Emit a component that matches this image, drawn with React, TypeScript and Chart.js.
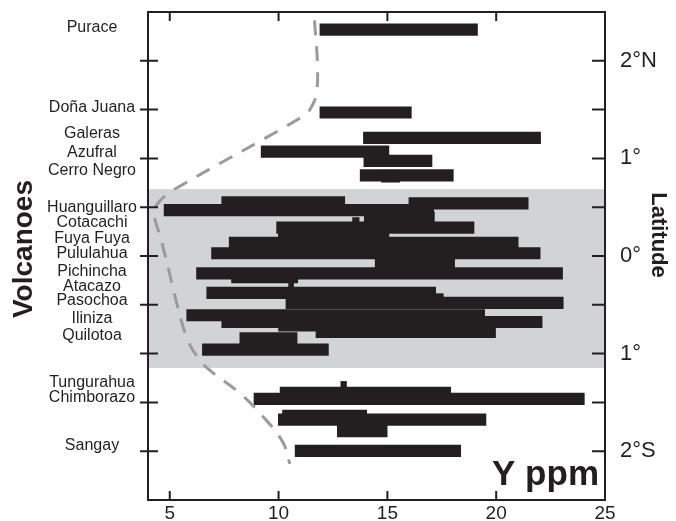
import React, { useEffect, useRef } from 'react';
import { Chart, registerables } from 'chart.js';

Chart.register(...registerables);

// ---- Data ----
const volcanoNames = [
  'Purace', 'Doña Juana', 'Galeras', 'Azufral', 'Cerro Negro', 'Huanguillaro', 'Cotacachi',
  'Fuya Fuya', 'Pululahua', 'Pichincha', 'Atacazo', 'Pasochoa', 'Iliniza', 'Quilotoa',
  'Tungurahua', 'Chimborazo', 'Sangay',
];
const volcanoLats = [2.34, 1.52, 1.25, 1.06, 0.87, 0.50, 0.34, 0.18, 0.025, -0.155, -0.315, -0.46, -0.64, -0.82, -1.295, -1.45, -1.945];

// Horizontal range bars: latitude, Y ppm min, Y ppm max
const barLat = [
  2.32, 1.47, 1.21, 1.07, 0.975, 0.826, 0.815,
  0.55, 0.47, 0.54, 0.39, 0.335, 0.29, 0.257, 0.136, 0.028, -0.061, -0.178, -0.217, -0.27,
  -0.378, -0.445, -0.481, -0.607, -0.676, -0.712, -0.779, -0.843, -0.959,
  -1.344, -1.401, -1.464, -1.637, -1.677, -1.794, -1.997,
];
const barMin = [
  11.9, 11.9, 13.9, 9.2, 13.92, 13.75, 14.73,
  7.39, 4.74, 15.99, 13.94, 13.4, 9.91, 9.99, 7.73, 6.92, 14.44, 6.23, 7.84, 10.46,
  6.70, 17.22, 10.34, 5.78, 7.39, 10.0, 11.72, 8.22, 6.5,
  12.86, 10.07, 8.87, 10.18, 9.99, 12.7, 10.76,
];
const barMax = [
  19.14, 16.1, 22.04, 15.07, 17.05, 18.03, 15.56,
  13.04, 17.13, 21.47, 17.16, 13.7, 18.98, 15.07, 21.01, 22.02, 18.09, 23.05, 10.88, 10.69,
  17.22, 17.57, 23.08, 19.47, 22.11, 16.0, 19.97, 10.85, 12.29,
  13.12, 17.91, 24.05, 14.05, 19.53, 14.99, 18.37,
];

// Dashed trend curve
const curvePpm = [11.65, 11.79, 11.73, 11.49, 11.19, 5.12, 4.51, 4.28, 4.6, 4.97, 5.31, 5.8, 6.35, 6.89, 8.19, 9.26, 10.18, 10.52];
const curveLat = [2.415, 1.94, 1.65, 1.52, 1.44, 0.67, 0.555, 0.446, 0.17, -0.157, -0.476, -0.846, -1.06, -1.18, -1.40, -1.64, -1.90, -2.13];

// Shaded latitude band [south, north]
const shadedBand = [-1.147, 0.685];

// Axes
const xTickValues = [5, 10, 15, 20, 25];
const latTickValues = [2, 1, 0, -1, -2];
const latTickLabels = ['2°N', '1°', '0°', '1°', '2°S'];
const latMinorTicks = [2, 1.5, 1, 0.5, 0, -0.5, -1, -1.5, -2];
const xRange = [4, 25];
const latRange = [-2.5, 2.5];

const FONT = '"Liberation Sans", Arial, Helvetica, sans-serif';
const INK = '#231f20';

const decorPlugin = {
  id: 'decor',
  beforeDatasetsDraw(chart: any) {
    const { ctx, chartArea: a, scales } = chart;
    const y = scales.y;
    const yt = y.getPixelForValue(shadedBand[1]);
    const yb = y.getPixelForValue(shadedBand[0]);
    ctx.save();
    ctx.fillStyle = '#d1d3d4';
    ctx.fillRect(a.left, yt, a.right - a.left, yb - yt);
    ctx.restore();
  },
  afterDatasetsDraw(chart: any) {
    const { ctx, chartArea: a, scales } = chart;
    const x = scales.x;
    const y = scales.y;
    ctx.save();
    ctx.strokeStyle = INK;
    ctx.lineWidth = 2;
    ctx.strokeRect(a.left, a.top, a.right - a.left, a.bottom - a.top);
    ctx.beginPath();
    xTickValues.forEach((v) => {
      const px = x.getPixelForValue(v);
      ctx.moveTo(px, a.top);
      ctx.lineTo(px, a.top + 9);
      ctx.moveTo(px, a.bottom);
      ctx.lineTo(px, a.bottom - 9);
    });
    latMinorTicks.forEach((v) => {
      const py = y.getPixelForValue(v);
      ctx.moveTo(a.left - 8, py);
      ctx.lineTo(a.left + 10, py);
      ctx.moveTo(a.right, py);
      ctx.lineTo(a.right - 13, py);
    });
    ctx.stroke();

    // volcano names
    ctx.fillStyle = INK;
    ctx.font = `16px ${FONT}`;
    ctx.textAlign = 'center';
    ctx.textBaseline = 'middle';
    volcanoNames.forEach((n, i) => {
      ctx.fillText(n, 92, y.getPixelForValue(volcanoLats[i]));
    });

    // axis titles
    ctx.font = `bold 28px ${FONT}`;
    ctx.textBaseline = 'alphabetic';
    ctx.save();
    ctx.translate(32, 249);
    ctx.rotate(-Math.PI / 2);
    ctx.fillText('Volcanoes', 0, 0);
    ctx.restore();

    ctx.font = `bold 22px ${FONT}`;
    ctx.save();
    ctx.translate(652, 235);
    ctx.rotate(Math.PI / 2);
    ctx.fillText('Latitude', 0, 0);
    ctx.restore();

    ctx.font = `bold 35px ${FONT}`;
    ctx.textAlign = 'right';
    ctx.fillText('Y ppm', a.right - 6, a.bottom - 15);
    ctx.restore();
  },
};

export default function App() {
  const ref = useRef<HTMLCanvasElement | null>(null);
  useEffect(() => {
    if (!ref.current) return;
    const bars = barLat.map((lat, i) => ({ x: [barMin[i], barMax[i]], y: lat }));
    const curve = curveLat.map((lat, i) => ({ x: curvePpm[i], y: lat }));
    const chart = new Chart(ref.current, {
      type: 'bar',
      data: {
        datasets: [
          {
            type: 'line',
            data: curve as any,
            borderColor: '#9b9b9b',
            borderWidth: 3,
            borderDash: [15, 11],
            pointRadius: 0,
            tension: 0.4,
            fill: false,
            order: 0,
          } as any,
          {
            type: 'bar',
            data: bars as any,
            backgroundColor: INK,
            borderWidth: 0,
            barThickness: 11.5,
            grouped: false,
            order: 1,
          } as any,
        ],
      },
      options: {
        indexAxis: 'y',
        animation: false,
        responsive: true,
        maintainAspectRatio: false,
        layout: { padding: { left: 148, top: 12, right: 0, bottom: 0 } },
        plugins: { legend: { display: false }, tooltip: { enabled: false } },
        scales: {
          x: {
            type: 'linear',
            position: 'bottom',
            min: xRange[0],
            max: xRange[1],
            offset: false,
            grid: { display: false, drawTicks: false },
            border: { display: false },
            afterBuildTicks: (s: any) => {
              s.ticks = xTickValues.map((v) => ({ value: v }));
            },
            afterFit: (s: any) => {
              s.height = 21;
              s.paddingLeft = 0;
              s.paddingRight = 0;
              s.paddingTop = 0;
              s.paddingBottom = 0;
            },
            ticks: {
              color: INK,
              font: { family: FONT, size: 19 },
              padding: 2,
              maxRotation: 0,
              autoSkip: false,
            },
          },
          y: {
            type: 'linear',
            display: false,
            min: latRange[0],
            max: latRange[1],
            offset: false,
          },
          y2: {
            type: 'linear',
            position: 'right',
            min: latRange[0],
            max: latRange[1],
            offset: false,
            grid: { display: false, drawTicks: false },
            border: { display: false },
            afterBuildTicks: (s: any) => {
              s.ticks = latTickValues.map((v) => ({ value: v }));
            },
            afterFit: (s: any) => {
              s.width = 71;
              s.paddingLeft = 0;
              s.paddingRight = 0;
              s.paddingTop = 0;
              s.paddingBottom = 0;
            },
            ticks: {
              color: INK,
              font: { family: FONT, size: 22 },
              padding: 15,
              autoSkip: false,
              callback: (v: any) => {
                const i = latTickValues.indexOf(Number(v));
                return i >= 0 ? latTickLabels[i] : '';
              },
            },
          },
        } as any,
      },
      plugins: [decorPlugin],
    });
    return () => chart.destroy();
  }, []);
  return (
    <div style={{ position: 'fixed', left: 0, top: 0, width: 676, height: 521, background: '#fff' }}>
      <canvas ref={ref} />
    </div>
  );
}
